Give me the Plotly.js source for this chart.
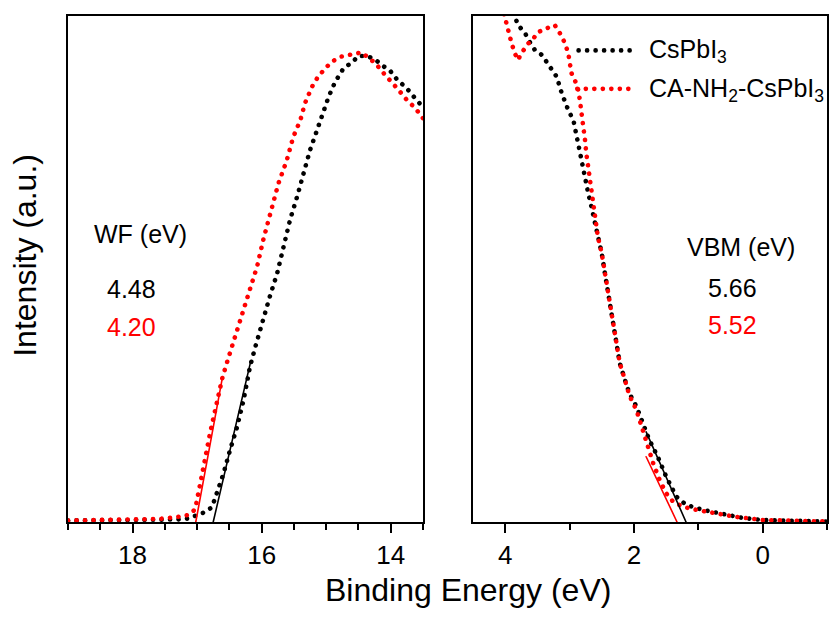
<!DOCTYPE html>
<html>
<head>
<meta charset="utf-8">
<script src="https://cdn.plot.ly/plotly-3.0.1.min.js"></script>
<style>
  html, body { margin: 0; padding: 0; background: #fff; }
  #chart { width: 831px; height: 617px; }
  .scatterlayer path.js-line, .shapelayer path { stroke-linecap: round; }
</style>
</head>
<body>
<div id="chart"></div>
<script>
// ---- Left panel: secondary electron cutoff (WF) ----
const wfBlackX = [19.0,18.5,18.0,17.5,17.3,17.13,16.89,16.77,16.69,16.59,16.49,16.38,16.28,16.18,16.10,16.02,15.92,15.87,15.76,15.66,15.56,15.45,15.35,15.25,15.14,15.04,14.96,14.86,14.73,14.60,14.50,14.37,14.24,14.14,14.01,13.90,13.75,13.62,13.5];
const wfBlackY = [0.003,0.003,0.003,0.004,0.005,0.007,0.019,0.029,0.057,0.096,0.142,0.188,0.241,0.307,0.345,0.383,0.425,0.447,0.491,0.544,0.597,0.643,0.689,0.735,0.775,0.814,0.841,0.870,0.897,0.908,0.921,0.921,0.914,0.903,0.892,0.874,0.857,0.837,0.820];
const wfRedX = [19.0,18.5,18.0,17.6,17.35,17.13,17.03,17.0,16.90,16.80,16.70,16.61,16.54,16.46,16.38,16.31,16.23,16.07,15.97,15.84,15.74,15.61,15.51,15.40,15.33,15.22,15.14,15.04,14.91,14.76,14.58,14.45,14.37,14.24,14.11,13.98,13.88,13.75,13.62,13.5];
const wfRedY = [0.003,0.004,0.005,0.006,0.009,0.014,0.025,0.043,0.109,0.175,0.233,0.284,0.314,0.346,0.376,0.406,0.435,0.505,0.560,0.623,0.669,0.715,0.761,0.794,0.827,0.860,0.877,0.893,0.910,0.920,0.924,0.928,0.920,0.907,0.887,0.870,0.854,0.834,0.818,0.798];
const wfTanBlackX = [16.75, 16.17];
const wfTanBlackY = [0, 0.317];
const wfTanRedX = [17.02, 16.61];
const wfTanRedY = [0, 0.284];

// ---- Right panel: valence band edge (VBM) ----
const vbBlackX = [3.95,3.85,3.80,3.69,3.64,3.54,3.43,3.36,3.28,3.20,3.12,3.02,2.94,2.90,2.86,2.81,2.76,2.71,2.66,2.61,2.56,2.50,2.45,2.40,2.36,2.32,2.27,2.22,2.14,2.07,1.96,1.86,1.76,1.63,1.50,1.34,1.19,0.93,0.62,0.31,0.0,-0.31,-0.65,-1.0];
const vbBlackY = [1.02,0.999,0.982,0.966,0.953,0.933,0.923,0.910,0.897,0.880,0.847,0.814,0.794,0.768,0.742,0.709,0.676,0.650,0.623,0.597,0.564,0.531,0.491,0.452,0.420,0.386,0.346,0.314,0.281,0.254,0.228,0.195,0.162,0.129,0.090,0.050,0.034,0.024,0.017,0.008,0.004,0.002,0.002,0.001];
const vbRedX = [4.05,4.0,3.98,3.93,3.90,3.85,3.80,3.75,3.69,3.64,3.57,3.51,3.43,3.36,3.28,3.23,3.15,3.07,3.02,3.00,2.97,2.92,2.87,2.84,2.81,2.79,2.76,2.74,2.71,2.69,2.66,2.63,2.60,2.56,2.50,2.45,2.40,2.36,2.32,2.27,2.22,2.14,2.07,1.96,1.88,1.81,1.70,1.60,1.50,1.39,1.24,1.03,0.72,0.41,0.0,-0.31,-0.65,-1.0];
const vbRedY = [1.02,0.995,0.979,0.962,0.946,0.926,0.913,0.926,0.939,0.946,0.953,0.966,0.972,0.976,0.979,0.982,0.966,0.946,0.926,0.907,0.887,0.874,0.857,0.834,0.808,0.781,0.755,0.729,0.702,0.676,0.650,0.623,0.597,0.564,0.531,0.491,0.452,0.420,0.386,0.346,0.314,0.281,0.250,0.221,0.188,0.156,0.116,0.083,0.057,0.040,0.030,0.024,0.017,0.010,0.004,0.002,0.002,0.001];
const vbTanBlackX = [1.19, 1.81];
const vbTanBlackY = [0, 0.178];
const vbTanRedX = [1.33, 1.81];
const vbTanRedY = [0, 0.129];

// ---- Labels ----
const seriesNames = ['CsPbI<sub>3</sub>', 'CA-NH<sub>2</sub>-CsPbI<sub>3</sub>'];
const seriesColors = ['#000000', '#ff0000'];
const wfLabel = 'WF (eV)';
const wfValues = ['4.48', '4.20'];
const vbmLabel = 'VBM (eV)';
const vbmValues = ['5.66', '5.52'];
const leftTicks = [18, 16, 14];
const rightTicks = [4, 2, 0];

const FONT = 'Arial, "Liberation Sans", Helvetica, sans-serif';
const DOT = {width: 4.6, dash: '0.1px,8.4px'};

function dotted(x, y, color, xa, ya) {
  return {x: x, y: y, type: 'scatter', mode: 'lines', xaxis: xa, yaxis: ya,
          line: {color: color, width: DOT.width, dash: DOT.dash}, showlegend: false, hoverinfo: 'skip'};
}
function solid(x, y, color, xa, ya) {
  return {x: x, y: y, type: 'scatter', mode: 'lines', xaxis: xa, yaxis: ya,
          line: {color: color, width: 1.6}, showlegend: false, hoverinfo: 'skip'};
}

const data = [
  dotted(wfBlackX, wfBlackY, seriesColors[0], 'x', 'y'),
  dotted(wfRedX, wfRedY, seriesColors[1], 'x', 'y'),
  solid(wfTanBlackX, wfTanBlackY, seriesColors[0], 'x', 'y'),
  solid(wfTanRedX, wfTanRedY, seriesColors[1], 'x', 'y'),
  dotted(vbBlackX, vbBlackY, seriesColors[0], 'x2', 'y2'),
  dotted(vbRedX, vbRedY, seriesColors[1], 'x2', 'y2'),
  solid(vbTanBlackX, vbTanBlackY, seriesColors[0], 'x2', 'y2'),
  solid(vbTanRedX, vbTanRedY, seriesColors[1], 'x2', 'y2')
];

const axisCommon = {
  showline: true, linecolor: '#000', linewidth: 2, mirror: true,
  showgrid: false, zeroline: false,
  ticks: 'outside', ticklen: 9, tickwidth: 2, tickcolor: '#000',
  tickfont: {family: FONT, size: 26, color: '#000'}
};
const yCommon = {
  showline: true, linecolor: '#000', linewidth: 2, mirror: true,
  showgrid: false, zeroline: false, ticks: '', showticklabels: false,
  range: [0, 1], fixedrange: true
};

const annText = (text, xref, yref, x, y, color, size, anchor) => ({
  text: text, xref: xref, yref: yref, x: x, y: y, showarrow: false,
  xanchor: anchor || 'center', yanchor: 'middle',
  font: {family: FONT, size: size, color: color}
});

const layout = {
  width: 831, height: 617,
  margin: {l: 68, r: 4, t: 16, b: 95},
  paper_bgcolor: '#fff', plot_bgcolor: '#fff',
  showlegend: false,
  xaxis: Object.assign({}, axisCommon, {
    domain: [0, 0.4677], anchor: 'y', range: [19, 13.5],
    tickvals: leftTicks, ticktext: leftTicks.map(String),
    minor: {dtick: 0.5, tick0: 0, ticks: 'outside', ticklen: 6, tickwidth: 2, tickcolor: '#000', showgrid: false}
  }),
  yaxis: Object.assign({}, yCommon, {anchor: 'x'}),
  xaxis2: Object.assign({}, axisCommon, {
    domain: [0.5336, 1], anchor: 'y2', range: [4.5, -1],
    tickvals: rightTicks, ticktext: rightTicks.map(String),
    minor: {dtick: 1, tick0: 0, ticks: 'outside', ticklen: 6, tickwidth: 2, tickcolor: '#000', showgrid: false}
  }),
  yaxis2: Object.assign({}, yCommon, {anchor: 'x2'}),
  shapes: [
    {type: 'line', xref: 'x2', yref: 'y2', x0: 2.86, x1: 1.97, y0: 0.932, y1: 0.932,
     line: {color: seriesColors[0], width: DOT.width, dash: DOT.dash}},
    {type: 'line', xref: 'x2', yref: 'y2', x0: 2.88, x1: 1.97, y0: 0.856, y1: 0.856,
     line: {color: seriesColors[1], width: DOT.width, dash: DOT.dash}}
  ],
  annotations: [
    annText(seriesNames[0], 'x2', 'y2', 1.80, 0.930, '#000', 25, 'left'),
    annText(seriesNames[1], 'x2', 'y2', 1.80, 0.853, '#000', 25, 'left'),
    annText(wfLabel, 'x', 'y', 17.87, 0.569, '#000', 25),
    annText(wfValues[0], 'x', 'y', 18.02, 0.460, seriesColors[0], 25),
    annText(wfValues[1], 'x', 'y', 18.02, 0.385, seriesColors[1], 25),
    annText(vbmLabel, 'x2', 'y2', 0.33, 0.543, '#000', 25),
    annText(vbmValues[0], 'x2', 'y2', 0.47, 0.462, seriesColors[0], 25),
    annText(vbmValues[1], 'x2', 'y2', 0.47, 0.389, seriesColors[1], 25),
    annText('Binding Energy (eV)', 'paper', 'paper', 0.527, -0.134, '#000', 32),
    Object.assign(annText('Intensity (a.u.)', 'paper', 'paper', -0.0567, 0.528, '#000', 32), {textangle: -90})
  ]
};

Plotly.newPlot('chart', data, layout, {staticPlot: true, displayModeBar: false});
</script>
</body>
</html>
